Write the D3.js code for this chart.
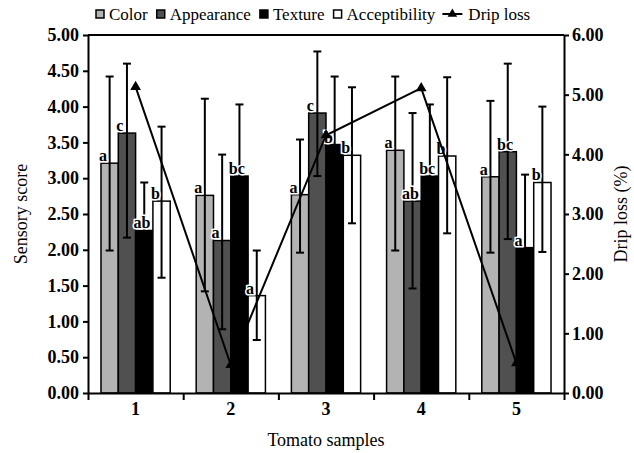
<!DOCTYPE html>
<html>
<head>
<meta charset="utf-8">
<script src="https://cdn.jsdelivr.net/npm/d3@7"></script>
<style>
  body { margin:0; background:#fff; }
  svg { font-family: "Liberation Serif", "Times New Roman", serif; }
</style>
</head>
<body>
<svg id="chart" width="634" height="453"></svg>
<script>
var samples = ["1", "2", "3", "4", "5"];
var seriesNames = ["Color", "Appearance", "Texture", "Acceptibility"];

// mean sensory score per sample
var colorScore = [3.21, 2.76, 2.77, 3.39, 3.02];
var appearanceScore = [3.63, 2.13, 3.91, 2.68, 3.37];
var textureScore = [2.27, 3.03, 3.47, 3.03, 2.03];
var acceptScore = [2.68, 1.36, 3.32, 3.31, 2.94];

// error bar ends (upper / lower)
var colorHi = [4.42, 4.11, 3.54, 4.42, 4.08];
var colorLo = [1.99, 1.42, 1.96, 1.99, 1.96];
var appearanceHi = [4.60, 3.33, 4.77, 3.91, 4.60];
var appearanceLo = [2.17, 0.89, 3.03, 1.46, 2.15];
var textureHi = [2.94, 4.03, 4.42, 4.03, 3.05];
var textureLo = [1.60, 2.03, 2.52, 2.03, 1.01];
var acceptHi = [3.72, 1.99, 4.27, 4.41, 4.00];
var acceptLo = [1.61, 0.74, 2.37, 2.23, 1.97];

// letters above bars
var colorLetters = ["a", "a", "a", "a", "a"];
var appearanceLetters = ["c", "a", "c", "ab", "bc"];
var textureLetters = ["ab", "bc", "b", "bc", "a"];
var acceptLetters = ["b", "a", "b", "b", "b"];

var dripLoss = [5.13, 0.47, 4.32, 5.11, 0.50];

var leftTicks = [0, 0.5, 1, 1.5, 2, 2.5, 3, 3.5, 4, 4.5, 5];
var rightTicks = [0, 1, 2, 3, 4, 5, 6];

var series = [
    {name:"Color", fill:"#b3b3b3", v:colorScore, hi:colorHi, lo:colorLo, let:colorLetters},
    {name:"Appearance", fill:"#505050", v:appearanceScore, hi:appearanceHi, lo:appearanceLo, let:appearanceLetters},
    {name:"Texture", fill:"#000000", v:textureScore, hi:textureHi, lo:textureLo, let:textureLetters},
    {name:"Acceptibility", fill:"#ffffff", v:acceptScore, hi:acceptHi, lo:acceptLo, let:acceptLetters}
];

var svg = d3.select("#chart");
var padding = {top:35, right:70, bottom:60, left:88};
var width = 634 - padding.left - padding.right;
var height = 453 - padding.top - padding.bottom;

var x0 = d3.scaleBand().domain(samples).range([0, width]);
var x1 = d3.scaleBand().domain(seriesNames).range([0, x0.bandwidth()]).paddingOuter(0.75);
var xEdge = d3.scaleLinear().domain([0, samples.length]).range([0, width]);
var yLeft = d3.scaleLinear().domain([0, 5]).range([height, 0]);
var yRight = d3.scaleLinear().domain([0, 6]).range([height, 0]);

var g = svg.append("g").attr("transform", "translate(" + padding.left + "," + padding.top + ")");

// bars
series.forEach(function (s) {
    var sg = g.append("g");
    sg.selectAll("rect").data(samples).enter()
        .append("rect")
        .attr("x", function (d) { return x0(d) + x1(s.name); })
        .attr("y", function (d, i) { return yLeft(s.v[i]); })
        .attr("width", x1.bandwidth())
        .attr("height", function (d, i) { return height - yLeft(s.v[i]); })
        .attr("fill", s.fill)
        .attr("stroke", "#000")
        .attr("stroke-width", 1.5);
});

// error bars
series.forEach(function (s) {
    var eg = g.append("g").attr("stroke", "#000").attr("stroke-width", 2);
    samples.forEach(function (d, i) {
        var cx = x0(d) + x1(s.name) + x1.bandwidth() / 2;
        eg.append("line").attr("x1", cx).attr("x2", cx)
            .attr("y1", yLeft(s.hi[i])).attr("y2", yLeft(s.lo[i]));
        eg.append("line").attr("x1", cx - 4).attr("x2", cx + 4)
            .attr("y1", yLeft(s.hi[i])).attr("y2", yLeft(s.hi[i]));
        eg.append("line").attr("x1", cx - 4).attr("x2", cx + 4)
            .attr("y1", yLeft(s.lo[i])).attr("y2", yLeft(s.lo[i]));
    });
});

// letters
series.forEach(function (s) {
    g.append("g").selectAll("text").data(samples).enter()
        .append("text")
        .attr("x", function (d) { return x0(d) + x1(s.name) - 2; })
        .attr("y", function (d, i) { return yLeft(s.v[i]) - 2; })
        .attr("font-size", "16px")
        .attr("font-weight", "bold")
        .attr("stroke", "#fff")
        .attr("stroke-width", 3)
        .attr("paint-order", "stroke")
        .text(function (d, i) { return s.let[i]; });
});

// drip loss line
var line = d3.line()
    .x(function (d, i) { return x0(samples[i]) + x0.bandwidth() / 2; })
    .y(function (d) { return yRight(d); });
g.append("path").datum(dripLoss)
    .attr("d", line)
    .attr("fill", "none")
    .attr("stroke", "#000")
    .attr("stroke-width", 2);
g.selectAll(".tri").data(dripLoss).enter()
    .append("path")
    .attr("class", "tri")
    .attr("d", d3.symbol().type(d3.symbolTriangle).size(50))
    .attr("transform", function (d, i) {
        return "translate(" + (x0(samples[i]) + x0.bandwidth() / 2) + "," + yRight(d) + ")";
    })
    .attr("fill", "#000");

// top frame
g.append("line").attr("x1", 0).attr("x2", width).attr("y1", 0).attr("y2", 0)
    .attr("stroke", "#000").attr("stroke-width", 2);

// axes
var yAxisL = g.append("g")
    .call(d3.axisLeft(yLeft).tickValues(leftTicks).tickFormat(d3.format(".2f")).tickSize(5).tickSizeOuter(0));
var yAxisR = g.append("g").attr("transform", "translate(" + width + ",0)")
    .call(d3.axisRight(yRight).tickValues(rightTicks).tickFormat(d3.format(".2f")).tickSize(5).tickSizeOuter(0));
var xAxisT = g.append("g").attr("transform", "translate(0," + height + ")")
    .call(d3.axisBottom(xEdge).ticks(samples.length).tickFormat("").tickSize(7).tickSizeOuter(0));
var xAxisL = g.append("g").attr("transform", "translate(0," + height + ")")
    .call(d3.axisBottom(x0).tickSize(0).tickPadding(9));
xAxisL.select(".domain").remove();

[yAxisL, yAxisR, xAxisT].forEach(function (a) {
    a.selectAll(".domain, line").attr("stroke", "#000").attr("stroke-width", 2);
});
[yAxisL, yAxisR, xAxisL].forEach(function (a) {
    a.selectAll("text")
        .attr("font-family", "Liberation Serif, Times New Roman, serif")
        .attr("font-size", "18px")
        .attr("font-weight", "bold")
        .attr("fill", "#000");
});
yAxisL.selectAll("text").attr("dx", "-1");

// axis titles
svg.append("text")
    .attr("transform", "translate(27," + (padding.top + height / 2) + ") rotate(-90)")
    .attr("text-anchor", "middle")
    .style("font-size", "18px")
    .text("Sensory score");
svg.append("text")
    .attr("transform", "translate(627," + (padding.top + height / 2) + ") rotate(-90)")
    .attr("text-anchor", "middle")
    .style("font-size", "18px")
    .text("Drip loss (%)");
svg.append("text")
    .attr("x", padding.left + width / 2)
    .attr("y", 446)
    .attr("text-anchor", "middle")
    .style("font-size", "18px")
    .text("Tomato samples");

// legend
var legend = svg.append("g").attr("transform", "translate(96,14)");
var lx = 0;
series.forEach(function (s) {
    legend.append("rect").attr("x", lx).attr("y", -4).attr("width", 8).attr("height", 8)
        .attr("fill", s.fill).attr("stroke", "#000").attr("stroke-width", 1.5);
    var t = legend.append("text").attr("x", lx + 13).attr("y", 6)
        .style("font-size", "17px").text(s.name);
    lx += 13 + t.node().getComputedTextLength() + 9;
});
legend.append("line").attr("x1", lx - 2).attr("x2", lx + 18).attr("y1", 0).attr("y2", 0)
    .attr("stroke", "#000").attr("stroke-width", 2);
legend.append("path").attr("d", d3.symbol().type(d3.symbolTriangle).size(40))
    .attr("transform", "translate(" + (lx + 8) + ",0)").attr("fill", "#000");
legend.append("text").attr("x", lx + 24).attr("y", 6).style("font-size", "17px").text("Drip loss");
</script>
</body>
</html>
